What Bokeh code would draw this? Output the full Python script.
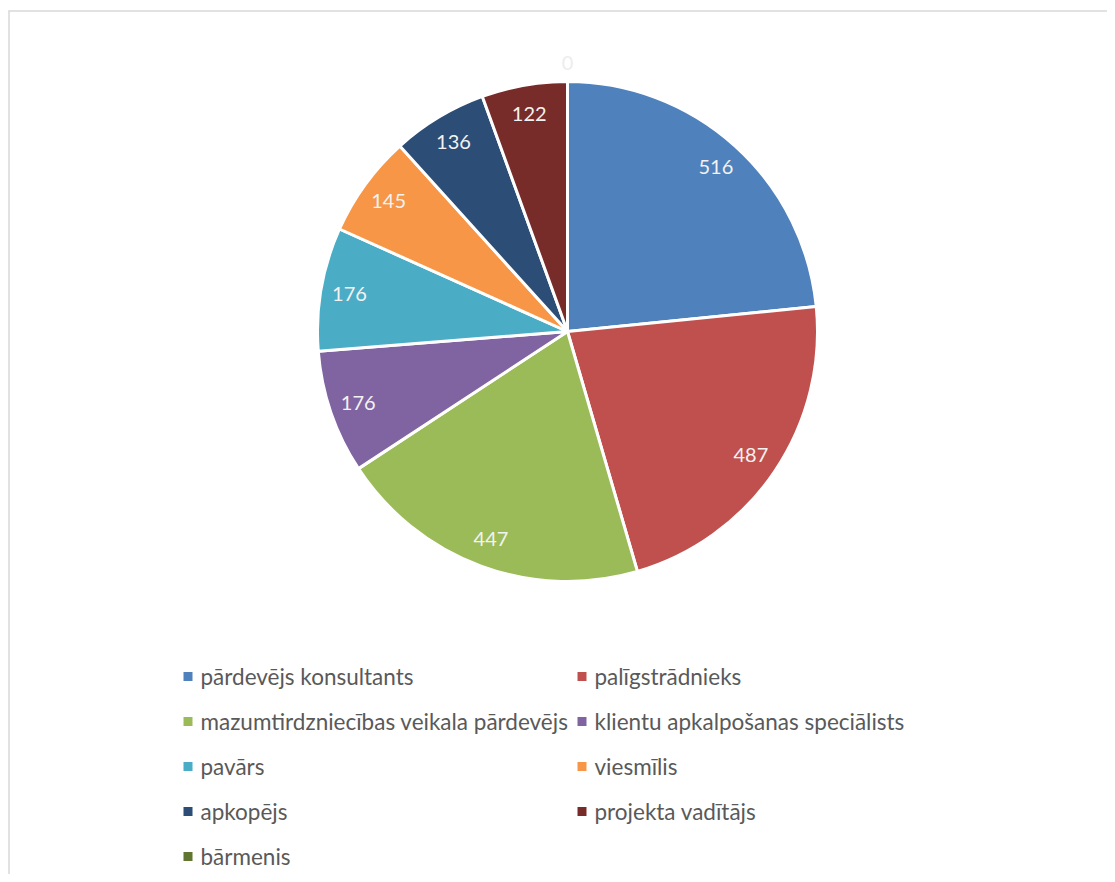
import math
from bokeh.plotting import figure
from bokeh.models import ColumnDataSource, Range1d
from bokeh.core.properties import value
from bokeh.embed import file_html
from bokeh.resources import INLINE

# ---- data ----
categories = ["pārdevējs konsultants", "palīgstrādnieks",
              "mazumtirdzniecības veikala pārdevējs", "klientu apkalpošanas speciālists",
              "pavārs", "viesmīlis", "apkopējs", "projekta vadītājs", "bārmenis"]
counts = [516, 487, 447, 176, 176, 145, 136, 122, 0]
colors = ["#4F81BD", "#C0504D", "#9BBB59", "#8064A2", "#4BACC6",
          "#F79646", "#2C4D75", "#772C2A", "#5F7530"]

# ---- layout ----
W, H = 1107, 874
CX, CY, R = 567, 331, 250          # pie centre (screen coords)
FONT = "Lato"
LABEL_SIZE = "20px"
LEGEND_SIZE = "22.5px"

p = figure(width=W, height=H, output_backend="svg", toolbar_location=None,
           x_range=Range1d(0, W), y_range=Range1d(0, H), min_border=0,
           background_fill_color="white", border_fill_color="white")
p.axis.visible = False
p.grid.visible = False
p.outline_line_color = None

def sy(y):
    return H - y

# frame lines (top and left, visible part of chart border)
p.line([8.5, 8.5], [sy(10), sy(H)], line_color="#D9D9D9", line_width=1.5)
p.line([8, W], [sy(10.5), sy(10.5)], line_color="#D9D9D9", line_width=1.5)

total = sum(counts)
cum = 0
starts, ends, mids = [], [], []
for c in counts:
    f0 = cum / total
    cum += c
    f1 = cum / total
    starts.append(math.pi / 2 - 2 * math.pi * f0)
    ends.append(math.pi / 2 - 2 * math.pi * f1)
    mids.append(math.pi / 2 - math.pi * (f0 + f1))

wedge_idx = [i for i, c in enumerate(counts) if c > 0]
wsrc = ColumnDataSource(dict(
    start=[starts[i] for i in wedge_idx],
    end=[ends[i] for i in wedge_idx],
    color=[colors[i] for i in wedge_idx],
))
p.wedge(x=CX, y=sy(CY), radius=R, start_angle="start", end_angle="end",
        direction="clock", fill_color="color", line_color="white",
        line_width=3, source=wsrc)

# data labels
lx, ly = [], []
for i, c in enumerate(counts):
    rl = R * 0.885 if c > 0 else R * 1.075
    lx.append(CX + rl * math.cos(mids[i]))
    ly.append(sy(CY) + rl * math.sin(mids[i]))
lsrc = ColumnDataSource(dict(x=lx, y=ly, t=[str(c) for c in counts],
                             col=["#F2F2F2" if c > 0 else "#EDEDED" for c in counts]))
p.text(x="x", y="y", text="t", source=lsrc, text_color="col",
       text_font=value(FONT), text_font_size=value(LABEL_SIZE),
       text_align="center", text_baseline="middle")

# legend (2 columns, row-major like Excel)
COL_X = [183, 577]
ROW_Y0, ROW_DY = 676, 45
MK = 9
mx, my, tx, ty = [], [], [], []
for i, cat in enumerate(categories):
    col, row = i % 2, i // 2
    mx.append(COL_X[col] + MK / 2)
    my.append(sy(ROW_Y0 + row * ROW_DY))
    tx.append(COL_X[col] + 17)
    ty.append(sy(ROW_Y0 + row * ROW_DY))
p.rect(x=mx, y=my, width=MK, height=MK, fill_color=colors, line_color=None)
p.text(x=tx, y=ty, text=categories, text_color="#595959",
       text_font=value(FONT), text_font_size=value(LEGEND_SIZE),
       text_align="left", text_baseline="middle")

open("out.html", "w").write(file_html(p, INLINE))
